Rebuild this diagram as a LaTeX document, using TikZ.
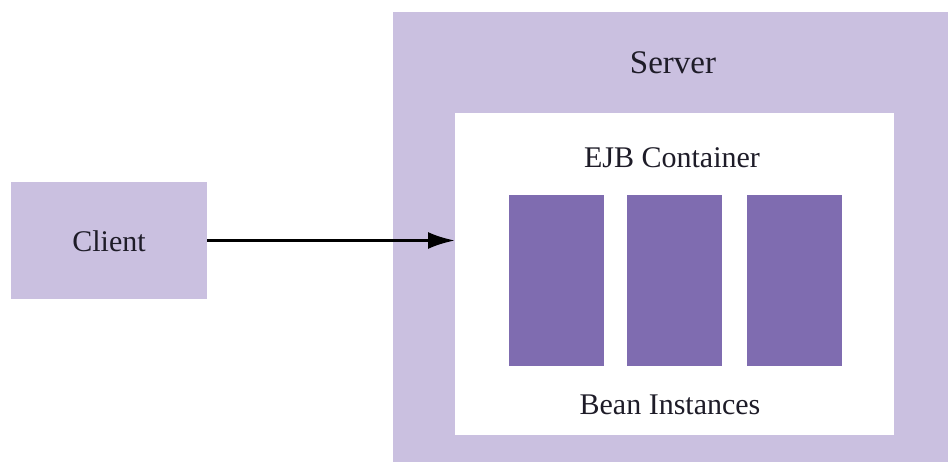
\documentclass[tikz,border=0pt]{standalone}
\usepackage{fontspec}
\setmainfont{Liberation Serif}
\usetikzlibrary{arrows.meta}
\definecolor{lav}{RGB}{202,192,224}
\definecolor{bean}{RGB}{127,108,176}
\definecolor{txt}{RGB}{30,28,40}
\tikzset{
  box/.style={draw=none, inner sep=0pt, outer sep=0pt, rectangle},
  lbl/.style={text=txt, font=\fontsize{30}{36}\selectfont, inner sep=0pt},
}
\begin{document}
\begin{tikzpicture}[x=1pt,y=-1pt]
\useasboundingbox[fill=white] (0,0) rectangle (948,462);
\node[box, fill=lav, minimum width=555pt, minimum height=450pt] (server) at (670.5,237) {};
\node[lbl, font=\fontsize{33}{38}\selectfont] (serverlbl) at (673,63) {Server};
\node[box, fill=white, minimum width=439pt, minimum height=322pt] (container) at (674.5,274) {};
\node[lbl] (ejb) at (672,158) {EJB Container};
\node[box, fill=bean, minimum width=95pt, minimum height=171pt] (b1) at (556.5,280.5) {};
\node[box, fill=bean, minimum width=95pt, minimum height=171pt] (b2) at (674.5,280.5) {};
\node[box, fill=bean, minimum width=95pt, minimum height=171pt] (b3) at (794.5,280.5) {};
\node[lbl] (beans) at (670,405) {Bean Instances};
\node[box, fill=lav, minimum width=196pt, minimum height=117pt] (client) at (109,240.5) {};
\node[lbl] (clientlbl) at (109,241) {Client};
\draw[line width=3pt, -{Latex[length=27pt,width=17pt]}] (client.east) -- (container.west |- client.east);
\end{tikzpicture}
\end{document}
